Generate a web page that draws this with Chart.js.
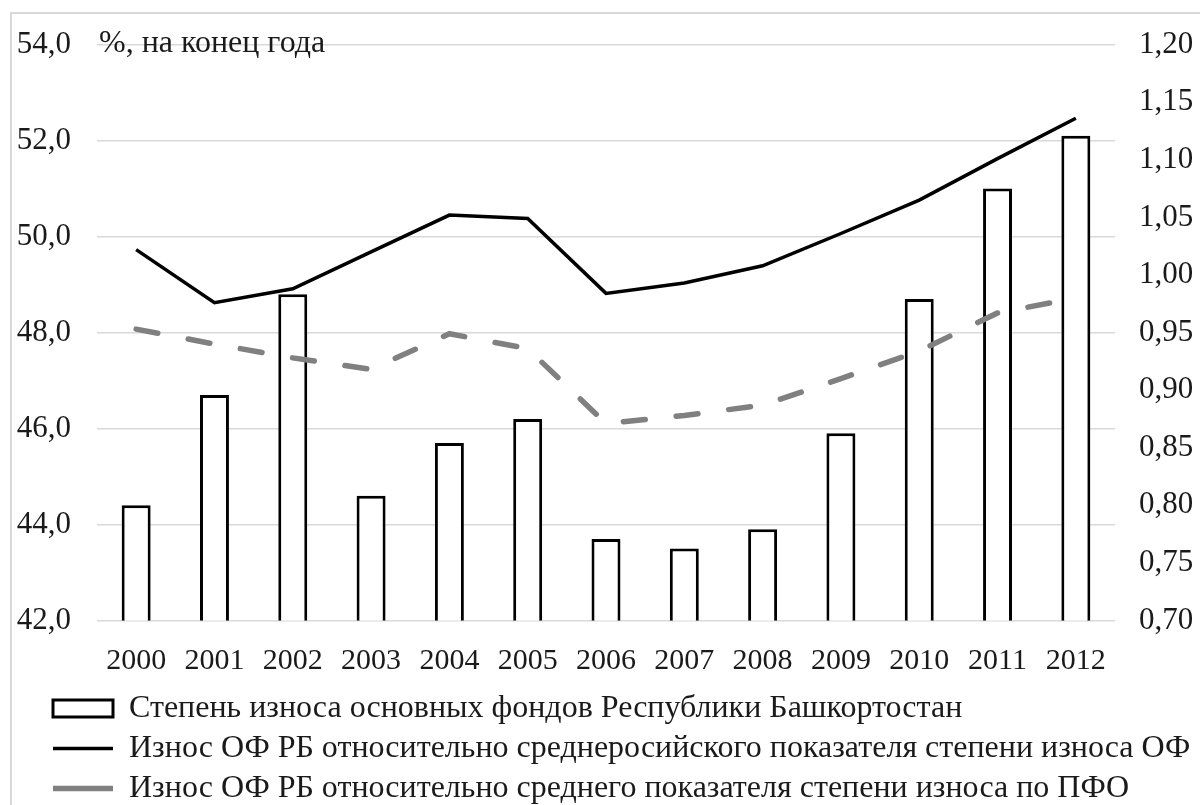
<!DOCTYPE html>
<html lang="ru">
<head>
<meta charset="utf-8">
<title>Степень износа основных фондов</title>
<script src="https://cdn.jsdelivr.net/npm/chart.js@4.4.1/dist/chart.umd.min.js"></script>
<style>
    html, body { margin: 0; padding: 0; background: #fff; overflow: hidden; }
    .wrap { position: relative; width: 1200px; height: 805px; }
    .frame {
        position: absolute; left: 10px; top: 12px; width: 1200px; height: 800px;
        border: 2px solid #d9d9d9; pointer-events: none;
    }
</style>
</head>
<body>
<div class="wrap">
    <canvas id="wearChart"></canvas>
    <div class="frame"></div>
</div>
<script>
const years = ['2000', '2001', '2002', '2003', '2004', '2005', '2006', '2007', '2008', '2009', '2010', '2011', '2012'];

// степень износа ОФ РБ, %
const wearRB = [44.4, 46.7, 48.8, 44.6, 45.7, 46.2, 43.7, 43.5, 43.9, 45.9, 48.7, 51.0, 52.1];

// отношение к среднероссийскому показателю
const ratioRF = [1.022, 0.976, 0.988, 1.020, 1.052, 1.049, 0.984, 0.993, 1.008, 1.036, 1.065, 1.101, 1.136];

// отношение к среднему по ПФО
const ratioPFO = [0.953, 0.940, 0.928, 0.918, 0.949, 0.936, 0.871, 0.878, 0.887, 0.910, 0.934, 0.967, 0.980];

const labelBar = 'Степень износа основных фондов Республики Башкортостан';
const labelRF = 'Износ ОФ РБ относительно среднеросийского показателя степени износа ОФ';
const labelPFO = 'Износ ОФ РБ относительно среднего показателя степени износа по ПФО';
const unitNote = '%, на конец года';

const FONT = "'Liberation Serif', 'Times New Roman', serif";
const TEXT = '#1a1a1a';

// подпись единиц поверх верхней линии сетки
const unitLabel = {
    id: 'unitLabel',
    afterDraw(chart) {
        const y = chart.scales.y.getPixelForValue(54);
        const ctx = chart.ctx;
        ctx.save();
        ctx.font = `32px ${FONT}`;
        ctx.fillStyle = TEXT;
        ctx.textAlign = 'left';
        ctx.textBaseline = 'middle';
        ctx.fillText(unitNote, chart.chartArea.left + 2, y - 1);
        ctx.restore();
    }
};

// легенда начинается с отступом от левого края
const legendShift = {
    id: 'legendShift',
    afterLayout(chart) {
        chart.legend.left += 45;
        chart.legend.right += 45;
    }
};

function commaFmt(digits) {
    return v => Number(v).toFixed(digits).replace('.', ',');
}

const ctx = document.getElementById('wearChart').getContext('2d');

new Chart(ctx, {
    type: 'bar',
    data: {
        labels: years,
        datasets: [
            {
                type: 'line',
                label: labelRF,
                data: ratioRF,
                yAxisID: 'y2',
                borderColor: '#000',
                backgroundColor: '#000',
                borderWidth: 3.5,
                pointRadius: 0,
                pointStyle: 'line',
                tension: 0,
                order: 1
            },
            {
                type: 'line',
                label: labelPFO,
                data: ratioPFO,
                yAxisID: 'y2',
                borderColor: '#808080',
                backgroundColor: '#808080',
                borderWidth: 5.5,
                borderDash: [22, 31],
                borderCapStyle: 'round',
                pointRadius: 0,
                pointStyle: 'line',
                tension: 0,
                order: 2
            },
            {
                label: labelBar,
                data: wearRB,
                yAxisID: 'y',
                backgroundColor: '#fff',
                borderColor: '#000',
                borderWidth: 3,
                borderSkipped: false,
                pointStyle: 'rect',
                barPercentage: 0.37,
                categoryPercentage: 1,
                order: 3
            }
        ]
    },
    options: {
        responsive: true,
        maintainAspectRatio: false,
        animation: false,
        layout: { padding: { left: 0, right: 0, top: 43.5, bottom: 0 } },
        plugins: {
            tooltip: { enabled: false },
            legend: {
                position: 'bottom',
                align: 'start',
                maxHeight: 120.5,
                labels: {
                    usePointStyle: true,
                    pointStyleWidth: 60,
                    boxHeight: 17,
                    padding: 8,
                    color: TEXT,
                    font: { family: FONT, size: 32 },
                    sort: (a, b) => {
                        const rank = [2, 0, 1];
                        return rank.indexOf(a.datasetIndex) - rank.indexOf(b.datasetIndex);
                    }
                }
            }
        },
        scales: {
            x: {
                grid: { display: false },
                border: { display: false },
                ticks: {
                    color: TEXT,
                    font: { family: FONT, size: 30 },
                    padding: 15,
                    maxRotation: 0,
                    autoSkip: false
                },
                afterFit: s => { s.height = 64; }
            },
            y: {
                position: 'left',
                min: 42,
                max: 54,
                grid: { color: '#d9d9d9', lineWidth: 1.5, drawTicks: false },
                border: { display: false },
                ticks: {
                    stepSize: 2,
                    color: TEXT,
                    font: { family: FONT, size: 31 },
                    padding: 26,
                    callback: commaFmt(1)
                },
                afterFit: s => { s.width = 97; }
            },
            y2: {
                position: 'right',
                min: 0.7,
                max: 1.2,
                grid: { display: false, drawTicks: false },
                border: { display: false },
                ticks: {
                    stepSize: 0.05,
                    color: TEXT,
                    font: { family: FONT, size: 31 },
                    padding: 24,
                    callback: commaFmt(2)
                },
                afterFit: s => { s.width = 85; }
            }
        }
    },
    plugins: [unitLabel, legendShift]
});
</script>
</body>
</html>
